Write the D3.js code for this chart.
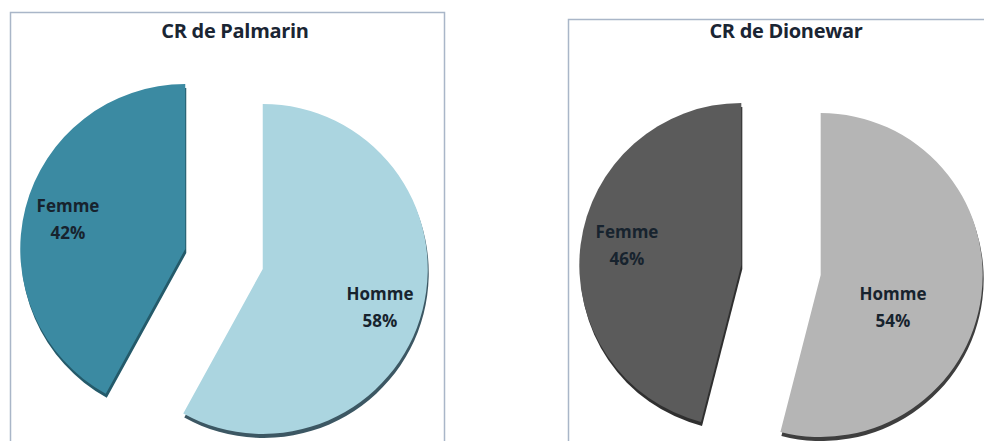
<!DOCTYPE html>
<html>
<head>
<meta charset="utf-8">
<script src="https://cdn.jsdelivr.net/npm/d3@7"></script>
<style>
  body { margin: 0; background: #fff; }
  svg { display: block; }
  text { font-family: "Open Sans", sans-serif; font-weight: bold; fill: #17232e; }
</style>
</head>
<body>
<div id="chart"></div>
<script>
// data
const categories = ["Femme", "Homme"];
const palmarin = [42, 58];
const dionewar = [46, 54];
const titles = ["CR de Palmarin", "CR de Dionewar"];

const width = 984, height = 441;

const svg = d3.select("#chart").append("svg")
    .attr("width", width)
    .attr("height", height);

const panels = [
    { title: titles[0], values: palmarin, box: [10, 12, 434, 440], cx: 224, cy: 259, r: 165,
      colors: ["#3b8aa2", "#abd5e0"], shadow: ["#245a6a", "#3c5763"], labels: [[68, 212], [380, 300]] },
    { title: titles[1], values: dionewar, box: [568, 19, 420, 440], cx: 781, cy: 270, r: 162,
      colors: ["#5b5b5b", "#b5b5b5"], shadow: ["#2f2f2f", "#3e3e3e"], labels: [[627, 238], [893, 300]] }
];

const explode = 40;

panels.forEach(p => {
    const g = svg.append("g");

    g.append("rect")
        .attr("x", p.box[0] + 0.5)
        .attr("y", p.box[1] + 0.5)
        .attr("width", p.box[2])
        .attr("height", p.box[3])
        .attr("fill", "#fff")
        .attr("stroke", "#a9b6c8")
        .attr("stroke-width", 1.5);

    g.append("text")
        .attr("x", p.box[0] + p.box[2] / 2 + 8)
        .attr("y", 38)
        .attr("text-anchor", "middle")
        .attr("font-size", 20)
        .attr("letter-spacing", -0.3)
        .style("fill", "#1a2533")
        .text(p.title);

    const total = d3.sum(p.values);
    const start = -2 * Math.PI * p.values[0] / total;
    const pie = d3.pie().sort(null).startAngle(start).endAngle(start + 2 * Math.PI);
    const arcs = pie(p.values);
    const arc = d3.arc().innerRadius(0).outerRadius(p.r);

    const offset = d => {
        const mid = (d.startAngle + d.endAngle) / 2;
        return [Math.sin(mid) * explode, -Math.cos(mid) * explode];
    };

    // depth edge
    g.selectAll("path.depth")
        .data(arcs)
        .enter().append("path")
        .attr("class", "depth")
        .attr("d", arc)
        .attr("fill", (d, i) => p.shadow[i])
        .attr("transform", d => {
            const o = offset(d);
            return `translate(${p.cx + o[0] + 1},${p.cy + o[1] + 4})`;
        });

    g.selectAll("path.slice")
        .data(arcs)
        .enter().append("path")
        .attr("class", "slice")
        .attr("d", arc)
        .attr("fill", (d, i) => p.colors[i])
        .attr("transform", d => {
            const o = offset(d);
            return `translate(${p.cx + o[0]},${p.cy + o[1]})`;
        });

    arcs.forEach((d, i) => {
        const t = g.append("text")
            .attr("text-anchor", "middle")
            .attr("font-size", 17)
            .attr("x", p.labels[i][0])
            .attr("y", p.labels[i][1]);
        t.append("tspan").attr("x", p.labels[i][0]).text(categories[i]);
        t.append("tspan").attr("x", p.labels[i][0]).attr("dy", 27)
            .text(Math.round(d.value / total * 100) + "%");
    });
});
</script>
</body>
</html>
